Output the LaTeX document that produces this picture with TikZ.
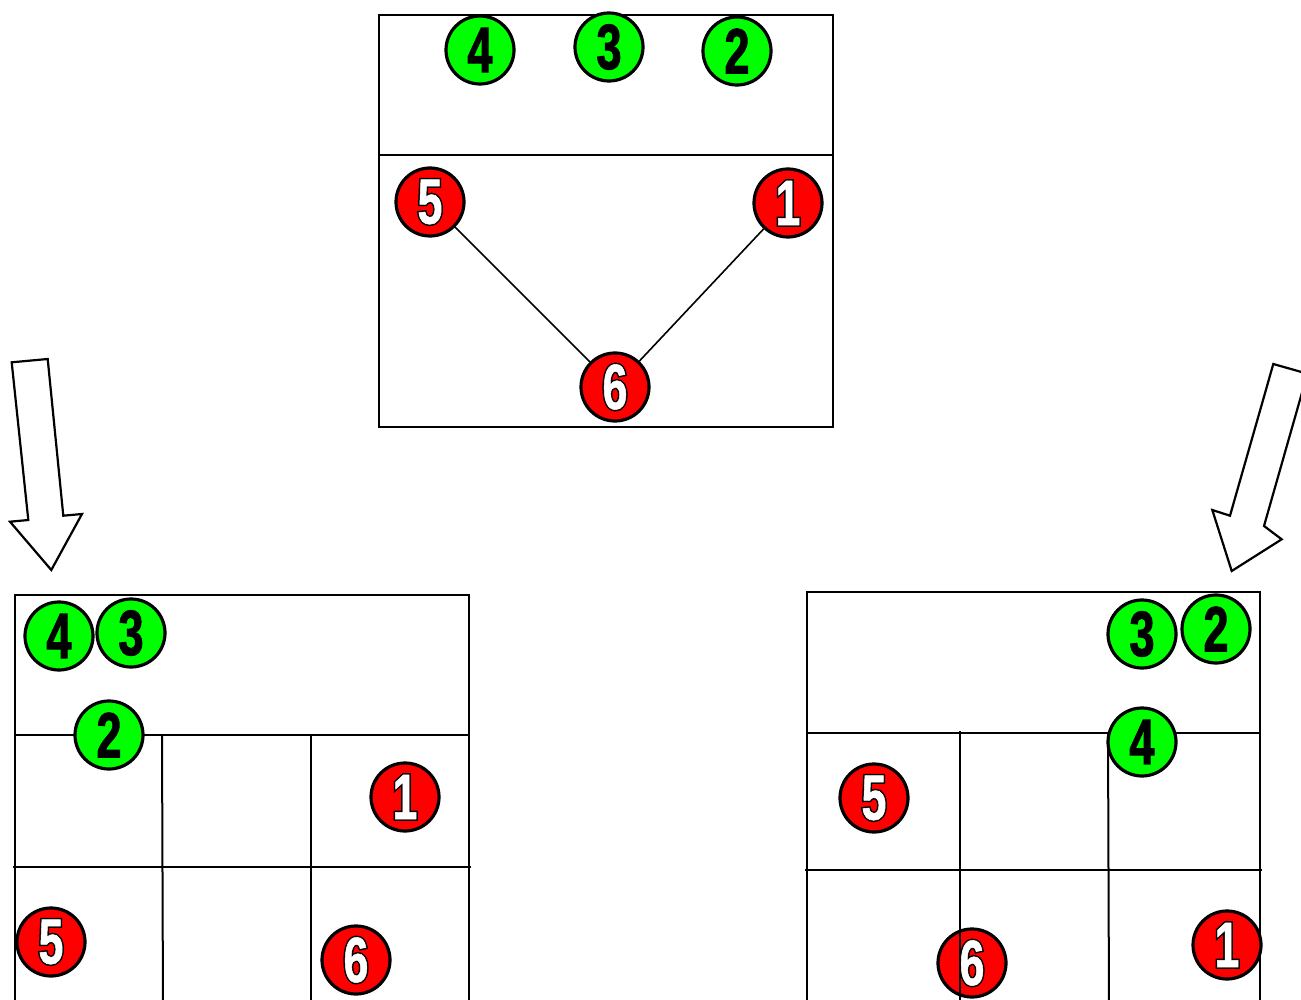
\documentclass[tikz,border=0pt]{standalone}
\usepackage{fontspec}
\newfontfamily\numfont[FakeStretch=0.70,FakeBold=1.6]{Liberation Sans Bold}
\newfontfamily\numfontw[FakeStretch=0.70,FakeBold=0.8]{Liberation Sans Bold}
\newfontfamily\numfontol[FakeStretch=0.70,FakeBold=5.5]{Liberation Sans Bold}
\definecolor{ballgreen}{RGB}{0,255,0}
\definecolor{ballred}{RGB}{255,0,0}
\newcommand{\gnum}[1]{{\fontsize{64}{64}\numfont\color{black}#1}}
\newcommand{\rnum}[1]{{\fontsize{64}{64}\makebox[0pt]{\numfontol\color{black}#1}\makebox[0pt]{\numfontw\color{white}#1}}}
\tikzset{
  ball/.style={circle, draw=black, line width=3.2pt, minimum size=68pt, inner sep=0pt},
  gball/.style={ball, fill=ballgreen},
  rball/.style={ball, fill=ballred},
  frame/.style={draw=black, line width=2pt},
  grid line/.style={draw=black, line width=2pt},
  link/.style={draw=black, line width=1.6pt},
  bigarrow/.style={draw=black, line width=2.2pt, fill=white, line join=miter}
}
\begin{document}
\begin{tikzpicture}[x=1pt,y=-1pt]
\useasboundingbox (0,0) rectangle (1301,1000);
\clip (0,0) rectangle (1301,1000);
\fill[white] (0,0) rectangle (1301,1000);

% ---------- top panel ----------
\draw[frame] (379,15) rectangle (833,427);
\draw[grid line] (379,155) -- (833,155);
\node[gball] (t4) at (480,50) {\gnum{4}};
\node[gball] (t3) at (609,47) {\gnum{3}};
\node[gball] (t2) at (737,51) {\gnum{2}};
\node[rball] (t5) at (430,202) {\rnum{5}};
\node[rball] (t1) at (788,203) {\rnum{1}};
\node[rball] (t6) at (615,387) {\rnum{6}};
\draw[link] (t5) -- (t6);
\draw[link] (t1) -- (t6);

% ---------- arrows ----------
\draw[bigarrow] (11.7,362.3) -- (47.7,359) -- (63.3,515.7) -- (82,514) -- (51.3,570) -- (10,521.7) -- (28.3,520) -- cycle;
\draw[bigarrow] (1273.3,364) -- (1307.4,373.7) -- (1264,526) -- (1281.7,539.3) -- (1231.7,571) -- (1212.3,510) -- (1230,515.7) -- cycle;

% ---------- bottom-left panel ----------
\draw[frame] (15,1010) -- (15,595) -- (469,595) -- (469,1010);
\draw[grid line] (15,735) -- (469,735);
\draw[grid line] (13,867) -- (471,867);
\draw[grid line] (162,735) -- (163,1010);
\draw[grid line] (311,735) -- (311,1010);
\node[gball] (l4) at (59,636) {\gnum{4}};
\node[gball] (l3) at (131,633) {\gnum{3}};
\node[gball] (l2) at (109,735) {\gnum{2}};
\node[rball] (l1) at (405,797) {\rnum{1}};
\node[rball] (l5) at (51,942) {\rnum{5}};
\node[rball] (l6) at (356,960) {\rnum{6}};

% ---------- bottom-right panel ----------
\draw[frame] (807,1010) -- (807,592) -- (1260,592) -- (1260,1010);
\draw[grid line] (807,733) -- (1260,733);
\draw[grid line] (805,870) -- (1262,870);
\draw[grid line] (1108,733) -- (1109,1010);
\node[gball] (r3) at (1142,634) {\gnum{3}};
\node[gball] (r2) at (1216,629) {\gnum{2}};
\node[gball] (r4) at (1142,742) {\gnum{4}};
\node[rball] (r5) at (874,798) {\rnum{5}};
\node[rball] (r6) at (972,963) {\rnum{6}};
\node[rball] (r1) at (1227,945) {\rnum{1}};
\draw[grid line] (960,731) -- (960,1010);
\end{tikzpicture}
\end{document}
